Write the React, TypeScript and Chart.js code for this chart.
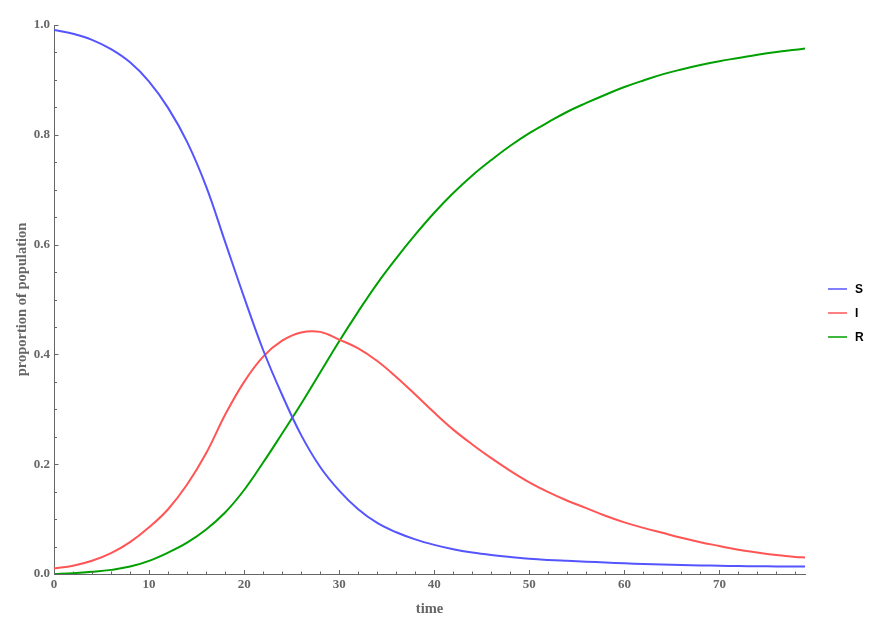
import { useEffect, useRef } from "react";
import { Chart, registerables } from "chart.js";

Chart.register(...registerables);

// values
const times = [0, 2, 4, 6, 8, 10, 12, 14, 16, 18, 20, 22, 24, 26, 28, 30, 32, 34, 36, 38, 40, 42, 44, 46, 48, 50, 52, 54, 56, 58, 60, 62, 64, 66, 68, 70, 72, 74, 76, 78, 79];
const susceptible = [0.991, 0.984, 0.973, 0.956, 0.932, 0.897, 0.849, 0.787, 0.706, 0.605, 0.504, 0.408, 0.326, 0.253, 0.195, 0.152, 0.118, 0.093, 0.076, 0.063, 0.053, 0.045, 0.039, 0.0345, 0.031, 0.0278, 0.0256, 0.024, 0.0225, 0.021, 0.0195, 0.0183, 0.0172, 0.0163, 0.0156, 0.015, 0.0145, 0.0141, 0.0138, 0.0136, 0.0135];
const infected = [0.01, 0.015, 0.024, 0.038, 0.058, 0.085, 0.118, 0.163, 0.22, 0.29, 0.35, 0.396, 0.425, 0.44, 0.441, 0.427, 0.411, 0.388, 0.359, 0.327, 0.294, 0.263, 0.236, 0.211, 0.188, 0.167, 0.149, 0.1335, 0.12, 0.106, 0.094, 0.084, 0.075, 0.066, 0.058, 0.051, 0.044, 0.039, 0.0345, 0.031, 0.03];
const recovered = [0, 0.0015, 0.004, 0.0075, 0.0135, 0.024, 0.039, 0.057, 0.081, 0.112, 0.153, 0.203, 0.256, 0.31, 0.367, 0.424, 0.478, 0.529, 0.575, 0.618, 0.658, 0.694, 0.726, 0.754, 0.78, 0.803, 0.823, 0.842, 0.858, 0.873, 0.887, 0.899, 0.91, 0.919, 0.927, 0.934, 0.94, 0.946, 0.951, 0.955, 0.957];
const seriesNames = ["S", "I", "R"];

const AXIS_GRAY = "#666666";
const SERIF = "'Liberation Serif', 'Times New Roman', serif";

const toPoints = (vals: number[]) => vals.map((v, i) => ({ x: times[i], y: v }));

const isMajorY = (v: number) => Math.abs(v / 0.2 - Math.round(v / 0.2)) < 1e-6;

// mathematica-like ticks pointing into the plot
const innerTicks = {
  id: "innerTicks",
  afterDraw(chart: any) {
    const { ctx } = chart;
    const xs = chart.scales.x;
    const ys = chart.scales.y;
    const x0 = xs.getPixelForValue(0);
    const y0 = ys.getPixelForValue(0);
    ctx.save();
    ctx.strokeStyle = AXIS_GRAY;
    ctx.lineWidth = 1;
    xs.ticks.forEach((t: any) => {
      const px = Math.round(xs.getPixelForValue(t.value)) + 0.5;
      const len = t.value % 10 === 0 ? 4 : 2.5;
      ctx.beginPath();
      ctx.moveTo(px, y0);
      ctx.lineTo(px, y0 - len);
      ctx.stroke();
    });
    ys.ticks.forEach((t: any) => {
      const py = Math.round(ys.getPixelForValue(t.value)) + 0.5;
      const len = isMajorY(t.value) ? 4.5 : 3;
      ctx.beginPath();
      ctx.moveTo(x0, py);
      ctx.lineTo(x0 + len, py);
      ctx.stroke();
    });
    ctx.restore();
  },
};

const SirChart = () => {
  const canvasRef = useRef<HTMLCanvasElement | null>(null);

  useEffect(() => {
    if (!canvasRef.current) return;
    const chart = new Chart(canvasRef.current, {
      type: "line",
      data: {
        datasets: [
          { label: seriesNames[0], data: toPoints(susceptible), borderColor: "#5555ff" },
          { label: seriesNames[1], data: toPoints(infected), borderColor: "#ff5555" },
          { label: seriesNames[2], data: toPoints(recovered), borderColor: "#00a000" },
        ],
      },
      options: {
        animation: false,
        responsive: true,
        maintainAspectRatio: false,
        parsing: false,
        elements: {
          point: { radius: 0 },
          line: { borderWidth: 2, tension: 0.4, fill: false },
        },
        layout: { padding: { top: 25, right: 79, left: 0, bottom: 0 } },
        plugins: {
          legend: { display: false },
          tooltip: { enabled: false },
        },
        scales: {
          x: {
            type: "linear",
            min: 0,
            max: 79,
            grid: { display: false, drawTicks: false },
            border: { display: true, color: AXIS_GRAY, width: 1 },
            ticks: {
              stepSize: 2,
              includeBounds: false,
              autoSkip: false,
              maxRotation: 0,
              padding: 3,
              color: AXIS_GRAY,
              font: { family: SERIF, size: 13, weight: "bold" },
              callback: (v: any) => (Number(v) % 10 === 0 ? String(v) : ""),
            },
            title: {
              display: true,
              text: "time",
              color: AXIS_GRAY,
              font: { family: SERIF, size: 14.5, weight: "bold" },
              padding: { top: 0, bottom: 8 },
            },
            afterFit: (scale: any) => {
              scale.height = 52;
            },
          },
          y: {
            type: "linear",
            min: 0,
            max: 1,
            grid: { display: false, drawTicks: false },
            border: { display: true, color: AXIS_GRAY, width: 1 },
            ticks: {
              stepSize: 0.05,
              autoSkip: false,
              padding: 4,
              color: AXIS_GRAY,
              font: { family: SERIF, size: 13, weight: "bold" },
              callback: (v: any) => (isMajorY(Number(v)) ? Number(v).toFixed(1) : ""),
            },
            title: {
              display: true,
              text: "proportion of population",
              color: AXIS_GRAY,
              font: { family: SERIF, size: 14.5, weight: "bold" },
              padding: { top: 14, bottom: 0 },
            },
            afterFit: (scale: any) => {
              scale.width = 54;
            },
          },
        },
      },
      plugins: [innerTicks],
    });

    return () => {
      chart.destroy();
    };
  }, []);

  const legendColors = ["#5555ff", "#ff5555", "#00a000"];

  return (
    <div style={{ position: "absolute", left: 0, top: 0, width: 884, height: 626, background: "#fff" }}>
      <canvas ref={canvasRef} />
      {seriesNames.map((name, i) => (
        <div
          key={name}
          style={{ position: "absolute", left: 828, top: 289 + i * 24 - 8, height: 16, display: "flex", alignItems: "center" }}
        >
          <div style={{ width: 19, height: 1.5, background: legendColors[i], opacity: 0.75 }} />
          <span
            style={{
              marginLeft: 8,
              fontFamily: "'Liberation Sans', Arial, sans-serif",
              fontWeight: "bold",
              fontSize: 12,
              color: "#000",
              lineHeight: "16px",
            }}
          >
            {name}
          </span>
        </div>
      ))}
    </div>
  );
};

export default function App() {
  return <SirChart />;
}
